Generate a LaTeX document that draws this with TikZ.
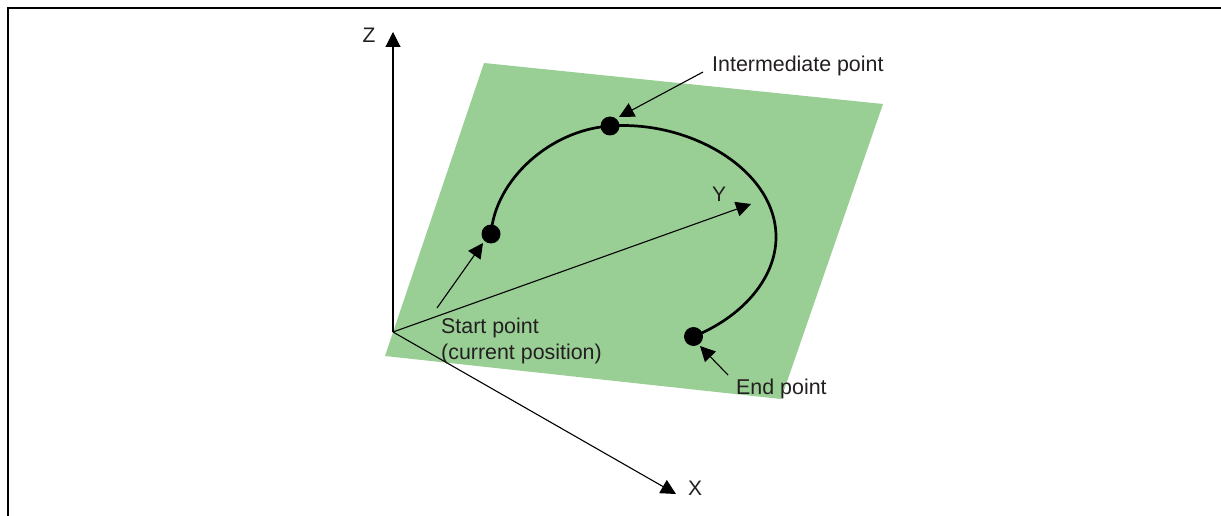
\documentclass[tikz,border=0pt]{standalone}
\usepackage{fontspec}
\setmainfont{Liberation Sans}
\usetikzlibrary{arrows.meta}
\definecolor{plane}{HTML}{99CF95}
\definecolor{ink}{HTML}{231F20}
\tikzset{
  x=1pt,y=-1pt,
  axis/.style={line width=1.1pt,black,-{Triangle[length=15pt,width=15pt]}},
  lead/.style={line width=1.1pt,black,-{Triangle[length=15pt,width=15pt]}},
  arcline/.style={line width=2.7pt,black},
  dot/.style={circle,fill=black,inner sep=0pt,minimum size=19pt},
  lbl/.style={text=ink,font=\fontsize{21.4}{26}\selectfont,anchor=west,inner sep=0pt,align=left},
  axlbl/.style={text=ink,font=\fontsize{21}{26}\selectfont,inner sep=0pt}
}
\begin{document}
\begin{tikzpicture}
\useasboundingbox (0,0) rectangle (1221,516);
\draw[line width=2pt,black] (8,516) -- (8,8) -- (1221,8);
\fill[plane] (484,63) -- (883,104) -- (781,399) -- (385,356) -- cycle;
\coordinate (O) at (393,332);
\coordinate (ztip) at (393,32);
\coordinate (xtip) at (676,494);
\coordinate (ytip) at (751,204);
\node[dot] (S) at (491,234) {};
\node[dot] (I) at (610,126) {};
\node[dot] (E) at (693.5,336.5) {};
\draw[arcline] (S.center) .. controls (495,180) and (550,130) .. (I.center)
  .. controls (690,120) and (776,170) .. (776,237)
  .. controls (776,280) and (740,318) .. (E.center);
\draw[axis] (O) -- (ztip);
\draw[axis] (O) -- (xtip);
\draw[axis] (O) -- (ytip);
\node[axlbl] (zl) at (369,35) {Z};
\node[axlbl] (xl) at (695,488) {X};
\node[axlbl] (yl) at (719,194) {Y};
\node[lbl] (il) at (712,65.5) {Intermediate point};
\node[lbl] (sl) at (441,340.5) {Start point\\(current position)};
\node[lbl] (el) at (736,388.5) {End point};
\coordinate (ia) at (703,72);
\coordinate (ib) at (619,117);
\coordinate (sa) at (437,308);
\coordinate (sb) at (483,243);
\coordinate (ea) at (728,375);
\coordinate (eb) at (700,346);
\draw[lead] (ia) -- (ib);
\draw[lead] (sa) -- (sb);
\draw[lead] (ea) -- (eb);
\end{tikzpicture}
\end{document}
